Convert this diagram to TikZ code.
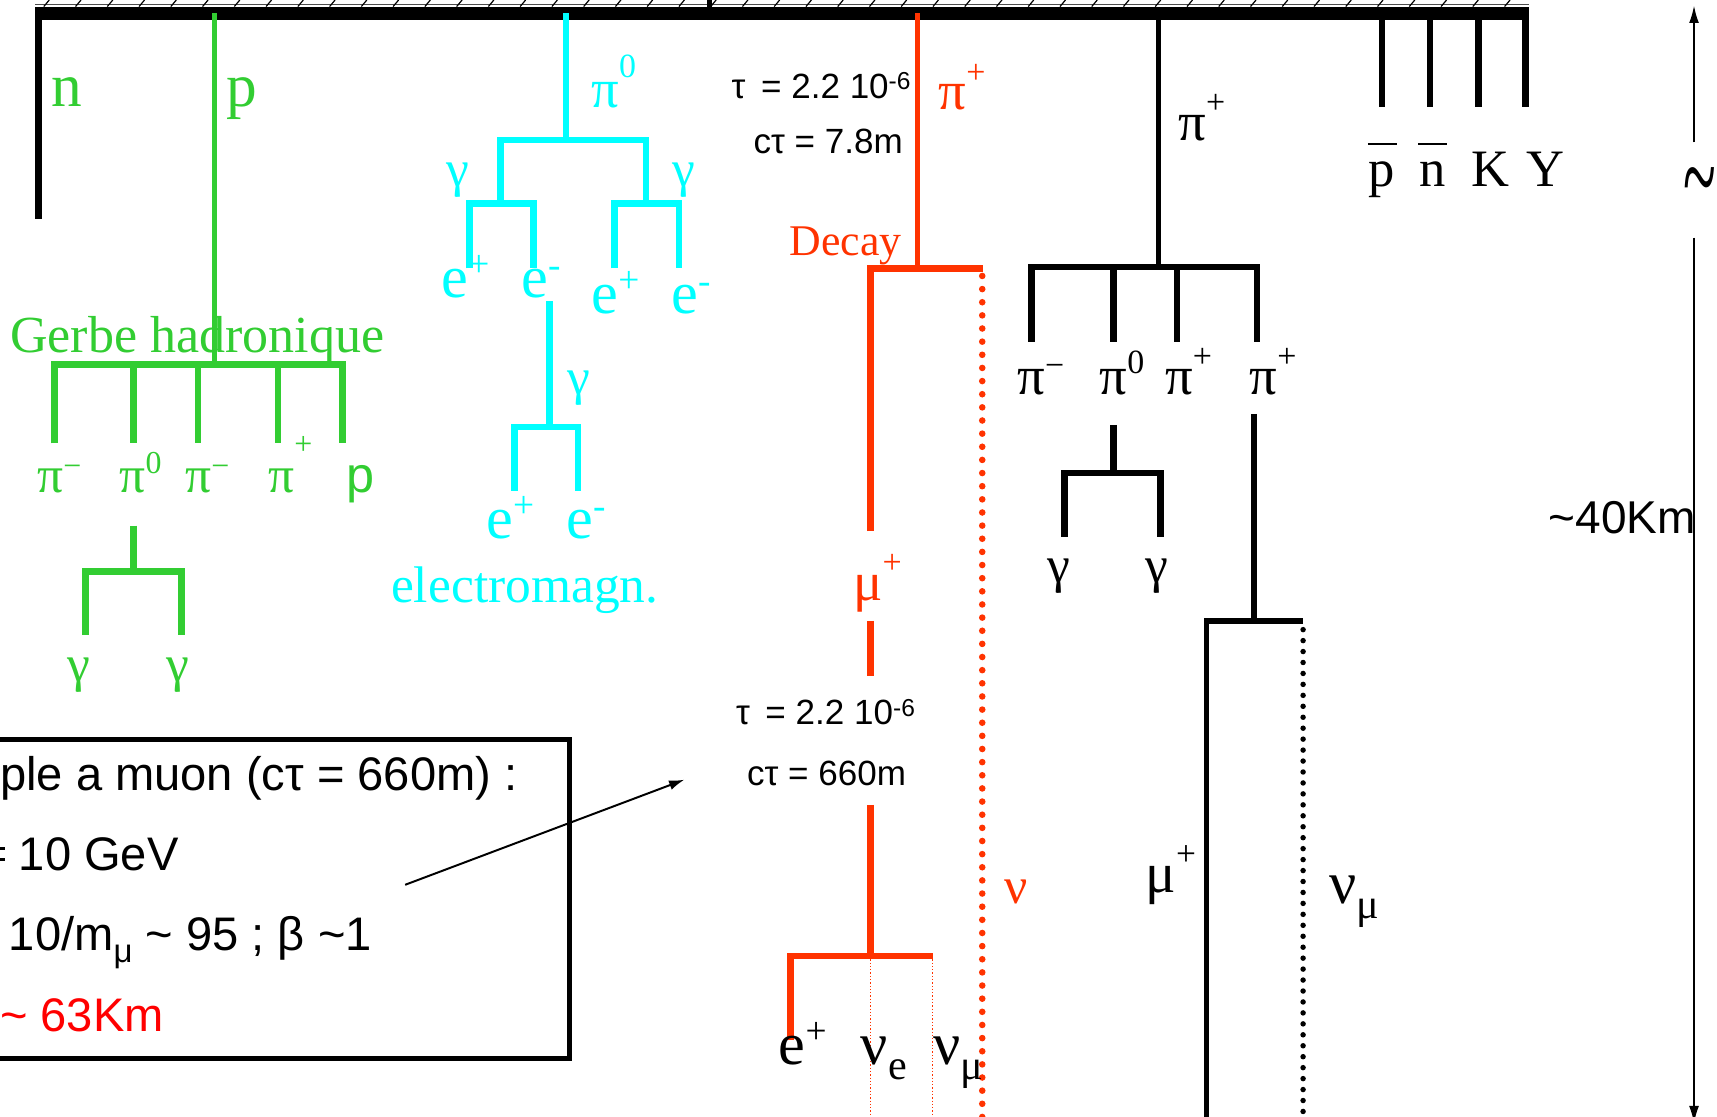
\documentclass[tikz,border=0pt]{standalone}
\usepackage{fontspec}
\usepackage{graphicx}
\setmainfont{Liberation Serif}
\setsansfont{Liberation Sans}
\usetikzlibrary{arrows.meta}
\definecolor{hgreen}{RGB}{50,205,50}
\definecolor{emcyan}{RGB}{0,255,255}
\definecolor{dred}{RGB}{255,51,0}
\definecolor{pred}{RGB}{255,0,0}
\newcommand\fs[1]{\fontsize{#1}{#1}\selectfont}
\newcommand\supp{\raisebox{0.48em}{\scalebox{0.62}{+}}}
\newcommand\supm{\raisebox{0.32em}{\scalebox{0.62}{−}}}
\newcommand\supz{\raisebox{0.38em}{\scalebox{0.62}{0}}}
\newcommand\supep{\raisebox{0.35em}{\scalebox{0.62}{+}}}
\newcommand\supem{\raisebox{0.33em}{\scalebox{0.62}{-}}}
\newcommand\supsix{\raisebox{0.25em}{\scalebox{0.7}{-6}}}
\newcommand\subx[1]{\raisebox{-0.25em}{\scalebox{0.7}{#1}}}
\newcommand\barred[1]{\rlap{\raisebox{0.78em}{\rule{0.55em}{0.035em}}}\hspace*{0.02em}#1}
\begin{document}
\begin{tikzpicture}[x=1pt,y=-1pt,
  lbl/.style={inner sep=0pt, anchor=base west},
  big/.style={font=\fs{55}},
  mid/.style={font=\fs{47}},
  sml/.style={font=\fs{40}},
  sans/.style={font=\sffamily\fs{32}},
  boxt/.style={font=\sffamily\fs{43}},
  brG/.style={draw=hgreen, line width=6pt},
  brC/.style={draw=emcyan, line width=6pt},
  brR/.style={draw=dred, line width=6pt},
  brK/.style={draw=black, line width=6pt},
  dotR/.style={draw=dred, line width=6pt, line cap=round, dash pattern=on 0pt off 12pt},
  dotK/.style={draw=black, line width=5pt, line cap=round, dash pattern=on 0pt off 10pt},
  thinR/.style={draw=dred, line width=0.9pt, dash pattern=on 1.2pt off 1.8pt}
]
\useasboundingbox (0,0) rectangle (1568,1020);
\fill[white] (0,0) rectangle (1568,1020);

% ---------- ground bar with hatching ----------
\draw[line width=0.6pt, black!70] (32,3.5) -- (1396,3.5);
\foreach \h in {40,69,...,1390} \draw[line width=1.1pt] (\h,6) -- (\h+5,0);
\draw[line width=12pt] (32,12) -- (1396,12);
\draw[line width=4pt] (648,0) -- (648,12);

% ---------- neutron ----------
\coordinate (nTop) at (35,12);
\coordinate (nEnd) at (35,200);
\draw[brK] (nTop) -- (nEnd);
\node[lbl, font=\fs{56}, text=hgreen] (nL) at (47,97) {n};

% ---------- proton / hadronic shower ----------
\coordinate (pTop) at (196,12);
\coordinate (pBr) at (196,333);
\draw[draw=hgreen, line width=5pt] (pTop) -- (pBr);
\node[lbl, font=\fs{56}, text=hgreen] (pL) at (207,97) {p};
\node[lbl, font=\fs{47.5}, text=hgreen] (gerbe) at (9,322) {Gerbe hadronique};
\coordinate (gA) at (50,405);
\coordinate (gE) at (313,405);
\draw[brG] (gA) |- (pBr) -| (gE);
\coordinate (gB) at (122,405);
\coordinate (gC) at (181,405);
\coordinate (gD) at (254,405);
\draw[brG] (gB |- pBr) -- (gB);
\draw[brG] (gC |- pBr) -- (gC);
\draw[brG] (gD |- pBr) -- (gD);
\node[lbl, mid, text=hgreen] (gpim1) at (34,450) {π\supm};
\node[lbl, mid, text=hgreen] (gpi0) at (109,450) {π\supz};
\node[lbl, mid, text=hgreen] (gpim2) at (169,450) {π\supm};
\node[lbl, mid, text=hgreen] (gpip) at (245,450) {π\raisebox{0.75em}{\scalebox{0.62}{+}}};
\node[lbl, font=\sffamily\fs{46}, text=hgreen] (gp) at (316,450) {p};
\coordinate (g0top) at (122,480);
\coordinate (g0br) at (122,522);
\draw[brG] (g0top) -- (g0br);
\coordinate (gg1) at (78,580);
\coordinate (gg2) at (166,580);
\draw[brG] (gg1) |- (g0br) -| (gg2);
\node[lbl, mid, text=hgreen] (ggam1) at (61,622) {γ};
\node[lbl, mid, text=hgreen] (ggam2) at (152,622) {γ};

% ---------- electromagnetic shower ----------
\coordinate (cTop) at (517,12);
\coordinate (cBr) at (517,128);
\draw[brC] (cTop) -- (cBr);
\node[lbl, font=\fs{50}, text=emcyan] (cpi0) at (540,98) {π\raisebox{0.55em}{\scalebox{0.62}{0}}};
\coordinate (cL) at (457,186);
\coordinate (cR) at (590,186);
\draw[brC] (cL) |- (cBr) -| (cR);
\node[lbl, mid, text=emcyan] (cgl) at (408,170) {γ};
\node[lbl, mid, text=emcyan] (cgr) at (614,170) {γ};
\coordinate (cLa) at (429,245);
\coordinate (cLb) at (487,245);
\draw[brC] (cLa) |- (cL) -| (cLb);
\coordinate (cRa) at (561,245);
\coordinate (cRb) at (620,245);
\draw[brC] (cRa) |- (cR) -| (cRb);
\node[lbl, big, text=emcyan] (ce1) at (403,272) {e\supep};
\node[lbl, big, text=emcyan] (ce2) at (476,272) {e\supem};
\node[lbl, big, text=emcyan] (ce3) at (540,286) {e\supep};
\node[lbl, big, text=emcyan] (ce4) at (613,286) {e\supem};
\coordinate (cMtop) at (502,275);
\coordinate (cMbr) at (502,390);
\draw[brC] (cMtop) -- (cMbr);
\node[lbl, mid, text=emcyan] (cgm) at (518,360) {γ};
\coordinate (cMa) at (470,448);
\coordinate (cMb) at (528,448);
\draw[brC] (cMa) |- (cMbr) -| (cMb);
\node[lbl, big, text=emcyan] (ce5) at (444,492) {e\supep};
\node[lbl, big, text=emcyan] (ce6) at (517,492) {e\supem};
\node[lbl, font=\fs{47}, text=emcyan] (emag) at (357,550) {electromagn.};

% ---------- pi+ decay (red) ----------
\coordinate (rTop) at (838,12);
\coordinate (rBr) at (838,245);
\draw[draw=dred, line width=4.5pt] (rTop) -- (rBr);
\node[lbl, font=\fs{50}, text=dred] (rpi) at (857,100) {π\supp};
\node[lbl, sans] (tau1) at (668,90) {τ\, = 2.2 10\supsix};
\node[lbl, sans] (ctau1) at (688,140) {cτ = 7.8m};
\node[lbl, sml, text=dred] (decay) at (721,233) {Decay};
\coordinate (rMu) at (795,245);
\coordinate (rNu) at (898,245);
\coordinate (rMu1) at (795,485);
\draw[brR] (rMu1) |- (rNu);
\draw[dotR] (897,252) -- (897,1022);
\node[lbl, mid, text=dred] (rnu) at (917,825) {ν};
\node[lbl, font=\fs{50}, text=dred] (rmu) at (779,548) {μ\supp};
\coordinate (rMu2a) at (795,567);
\coordinate (rMu2b) at (795,617);
\draw[brR] (rMu2a) -- (rMu2b);
\node[lbl, sans] (tau2) at (672,662) {τ\, = 2.2 10\supsix};
\node[lbl, sans] (ctau2) at (682,717) {cτ = 660m};
\coordinate (rMu3a) at (795,735);
\coordinate (rMuBr) at (795,873);
\draw[brR] (rMu3a) -- (rMuBr);
\coordinate (rE) at (722,950);
\coordinate (rNm) at (852,873);
\draw[brR] (rE) |- (rNm);
\draw[thinR] (rMuBr) -- (795,1022);
\draw[thinR] (rNm) -- (852,1022);
\node[lbl, big] (re) at (711,972) {e\supep};
\node[lbl, big] (rnue) at (786,972) {ν\subx{e}};
\node[lbl, big] (rnum) at (852,972) {ν\subx{μ}};

% ---------- pi+ (black) ----------
\coordinate (kTop) at (1058,18);
\coordinate (kBr) at (1058,244);
\draw[line width=4.5pt] (kTop) -- (kBr);
\node[lbl, font=\fs{50}] (kpi) at (1076,128) {π\supp};
\coordinate (kA) at (942,312);
\coordinate (kD) at (1148,312);
\draw[brK] (kA) |- (kBr) -| (kD);
\coordinate (kB) at (1017,312);
\coordinate (kC) at (1075,312);
\draw[brK] (kB |- kBr) -- (kB);
\draw[brK] (kC |- kBr) -- (kC);
\node[lbl, font=\fs{50}] (kpim) at (929,360) {π\supm};
\node[lbl, font=\fs{50}] (kpi0) at (1004,360) {π\supz};
\node[lbl, font=\fs{50}] (kpip1) at (1064,360) {π\supp};
\node[lbl, font=\fs{50}] (kpip2) at (1141,360) {π\supp};
\coordinate (k0top) at (1017,388);
\coordinate (k0br) at (1017,432);
\draw[brK] (k0top) -- (k0br);
\coordinate (kg1) at (972,490);
\coordinate (kg2) at (1060,490);
\draw[brK] (kg1) |- (k0br) -| (kg2);
\node[lbl, mid] (kgam1) at (956,532) {γ};
\node[lbl, mid] (kgam2) at (1046,532) {γ};
\coordinate (kPtop) at (1145,378);
\coordinate (kPbr) at (1145,567);
\draw[draw=black, line width=5pt] (kPtop) -- (kPbr);
\coordinate (kMu) at (1102,1022);
\coordinate (kNu) at (1190,567);
\draw[draw=black, line width=5pt] (kMu) |- (kNu);
\draw[dotK] (1190,575) -- (1190,1022);
\node[lbl, font=\fs{52}] (kmu) at (1046,815) {μ\supp};
\node[lbl, big] (knum) at (1214,825) {ν\subx{μ}};

% ---------- other secondaries ----------
\foreach \xx/\nm in {1262/sa,1306/sb,1350/sc,1393/sd}{
  \coordinate (\nm) at (\xx,98);
  \draw[brK] (\xx,12) -- (\nm);
}
\node[lbl, font=\fs{48}] (pbar) at (1249,170) {\barred{p}};
\node[lbl, font=\fs{48}] (nbar) at (1295,170) {\barred{n}};
\node[lbl, font=\fs{48}] (kaon) at (1344,170) {K};
\node[lbl, font=\fs{48}] (hyp) at (1394,170) {Y};

% ---------- height scale ----------
\coordinate (hTop) at (1547,5);
\coordinate (hA) at (1547,130);
\coordinate (hB) at (1547,217);
\coordinate (hBot) at (1547,1026);
\draw[line width=1.6pt, -{Latex[length=16pt,width=9pt]}] (hA) -- (hTop);
\draw[line width=1.6pt, -{Latex[length=16pt,width=9pt]}] (hB) -- (hBot);
\node[inner sep=0pt, font=\fs{48}] (tilde) at (1552,176) {\scalebox{1.15}[2.3]{\char"007E}};
\node[lbl, font=\sffamily\fs{42}] (h40) at (1414,487) {\char"007E 40Km};

% ---------- example box ----------
\draw[line width=4.5pt] (-10,675) rectangle (520,967);
\node[lbl, boxt] (bx1) at (0,722) {ple a muon (cτ = 660m) :};
\draw[line width=3pt] (0,775) -- (5,775) (0,785) -- (5,785);
\node[lbl, boxt] (bx2) at (17,795) {10 GeV};
\node[lbl, boxt] (bx3) at (8,868) {10/m\subx{μ} \char"007E{} 95 ; β \char"007E 1};
\node[lbl, boxt, text=pred] (bx4) at (0,942) {\char"007E{} 63Km};
\coordinate (arrS) at (370,808);
\coordinate (arrE) at (625,712);
\draw[line width=1.8pt, -{Latex[length=14pt,width=9pt]}] (arrS) -- (arrE);
\end{tikzpicture}
\end{document}
